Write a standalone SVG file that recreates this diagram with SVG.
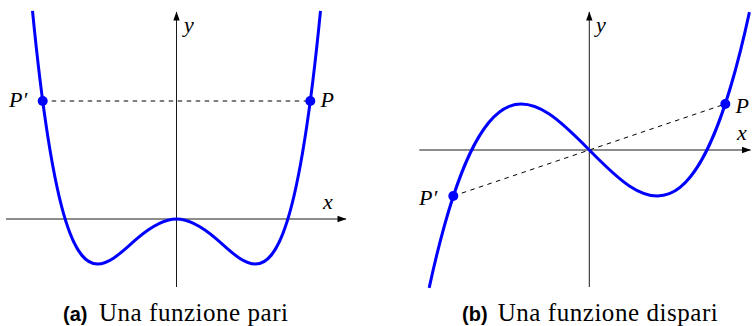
<svg xmlns="http://www.w3.org/2000/svg" width="752" height="326" viewBox="0 0 752 326">
<style>
.axis{stroke:#000;stroke-width:0.9;fill:none}
.dash{stroke:#000;stroke-width:1;stroke-dasharray:4.5 4.5;fill:none}
.curve{stroke:#0000ff;stroke-width:3;fill:none}
.dot{fill:#0000ff}
.lbl{font-family:'Liberation Serif','DejaVu Serif','Times New Roman',serif;font-style:italic;font-size:22px;fill:#000}
.cap{font-family:'Liberation Serif','DejaVu Serif','Times New Roman',serif;font-size:25px;fill:#000}
.capl{font-family:'Liberation Sans',Arial,sans-serif;font-weight:bold;font-size:20px;fill:#000}
</style>
<defs>
<marker id="arr" viewBox="-9 -4 10 8" refX="0" refY="0" markerWidth="10" markerHeight="8" markerUnits="userSpaceOnUse" orient="auto">
<path d="M0.5,0 L-8.5,-3.2 L-8.5,3.2 Z" fill="#000"/>
</marker>
</defs>
<g id="connectors">
<line class="axis" x1="6" y1="219" x2="346" y2="219" marker-end="url(#arr)"/>
<line class="axis" x1="176.5" y1="287" x2="176.5" y2="12" marker-end="url(#arr)"/>
<line class="dash" x1="42.7" y1="101" x2="310.3" y2="101"/>
<line class="axis" x1="419.3" y1="150" x2="750.5" y2="150" marker-end="url(#arr)"/>
<line class="axis" x1="589.3" y1="287" x2="589.3" y2="12" marker-end="url(#arr)"/>
<line class="dash" x1="453.3" y1="196" x2="725.3" y2="104"/>
</g>
<g id="even-curve">
<path class="curve" d="M32.5,10.9 C43.62,124.5 54.76,186.33 65.9,221.5 C76.43,254.75 86.97,264 97.5,264 C110.67,264 123.83,249.83 137,238.6 C150.17,227.37 163.33,219 176.5,219 C189.67,219 202.83,227.37 216,238.6 C229.17,249.83 242.33,264 255.5,264 C266.03,264 276.57,254.75 287.1,221.5 C298.24,186.33 309.38,124.5 320.5,10.9"/>
</g>
<g id="odd-curve">
<path class="curve" d="M429.16,287.9 C535.92,-204.6 642.68,504.6 749.44,12.1"/>
</g>
<g id="pointP1"><circle class="dot" cx="310.3" cy="101" r="5"/><text class="lbl" x="320.5" y="106.5" font-family="Liberation Serif, serif">P</text></g>
<g id="pointP1prime"><circle class="dot" cx="42.7" cy="101" r="5"/><text class="lbl" x="9" y="106.5">P′</text></g>
<g id="pointP2"><circle class="dot" cx="725.3" cy="104" r="5"/><text class="lbl" x="735.5" y="112.5">P</text></g>
<g id="pointP2prime"><circle class="dot" cx="453.3" cy="196" r="5"/><text class="lbl" x="419" y="205">P′</text></g>
<g id="labels">
<text class="lbl" x="184" y="32">y</text>
<text class="lbl" x="323" y="209">x</text>
<text class="lbl" x="596" y="32">y</text>
<text class="lbl" x="737" y="140">x</text>
</g>
<g id="captions">
<text class="capl" x="63" y="320.5">(a)</text>
<text class="cap" x="99" y="320.5" textLength="189" lengthAdjust="spacing">Una funzione pari</text>
<text class="capl" x="462" y="320.5">(b)</text>
<text class="cap" x="497.7" y="320.5" textLength="220" lengthAdjust="spacing">Una funzione dispari</text>
</g>
</svg>
